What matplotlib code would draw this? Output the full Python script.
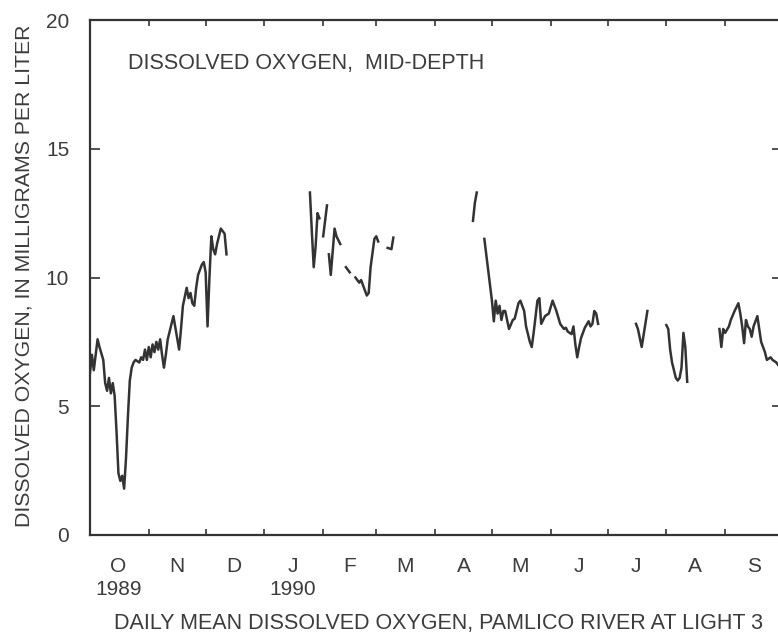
import numpy as np
import matplotlib
matplotlib.use('Agg')
import matplotlib.pyplot as plt
import matplotlib.dates as mdates

plt.rcParams['font.family'] = ['Liberation Sans', 'DejaVu Sans']

# days counted from 1 Oct 1989, values in mg/L
start = np.datetime64('1989-10-01')

seg1_day = [0, 1, 2, 4, 5, 7, 8, 9, 10, 11, 12, 13, 14, 15, 16, 17, 18, 19, 20, 21,
            22, 23, 24, 26, 27, 28, 29, 30, 31, 32, 33, 34, 35, 36, 37, 38, 39, 40, 41,
            42, 44, 47, 48, 49, 51, 52, 53, 54, 55, 56, 57, 59, 60, 61, 62, 63, 64, 65,
            66, 67, 68, 69, 70, 71, 72]
seg1_do = [6.3, 7.0, 6.4, 7.6, 7.3, 6.8, 5.9, 5.6, 6.1, 5.5, 5.9, 5.4, 4.0, 2.4, 2.1, 2.3,
           1.8, 3.0, 4.6, 6.0, 6.5, 6.7, 6.8, 6.7, 6.9, 6.8, 7.2, 6.8, 7.3, 6.9, 7.4, 7.1,
           7.5, 7.2, 7.6, 7.0, 6.5, 7.0, 7.6, 7.9, 8.5, 7.2, 8.0, 8.9, 9.6, 9.2, 9.4, 9.0,
           8.9, 9.6, 10.1, 10.5, 10.6, 10.2, 8.1, 10.0, 11.6, 11.1, 10.9, 11.3, 11.6, 11.9,
           11.8, 11.7, 10.9]

seg2_day = [116, 117, 118, 119, 120, 121]
seg2_do = [13.3, 11.8, 10.4, 11.2, 12.5, 12.3]

seg3_day = [123, 125]
seg3_do = [11.6, 12.8]

seg4_day = [126, 127, 129, 130, 132]
seg4_do = [10.9, 10.1, 11.9, 11.6, 11.3]

seg5_day = [135, 137]
seg5_do = [10.4, 10.2]

seg6_day = [140, 142, 143, 145, 146, 147, 148, 150, 151, 152]
seg6_do = [10.0, 9.8, 9.9, 9.5, 9.3, 9.4, 10.4, 11.5, 11.6, 11.4]

seg7_day = [157, 159, 160]
seg7_do = [11.15, 11.1, 11.55]

seg8_day = [202, 203, 204]
seg8_do = [12.2, 12.9, 13.3]

seg9_day = [208, 210, 212, 213, 214, 215, 216, 217, 218, 219, 221, 223, 224, 226, 227,
            229, 230, 232, 233, 234, 236, 237, 238, 240, 242, 244, 246, 248, 250, 251,
            252, 254, 255, 256, 257, 258, 259, 261, 263, 264, 265, 266, 267, 268]
seg9_do = [11.5, 10.3, 9.1, 8.3, 9.1, 8.6, 8.9, 8.35, 8.7, 8.7, 8.0, 8.35, 8.4, 9.0, 9.1,
           8.7, 8.1, 7.5, 7.3, 7.85, 9.1, 9.2, 8.2, 8.5, 8.6, 9.1, 8.7, 8.2, 8.0, 8.05,
           7.9, 7.8, 8.1, 7.4, 6.9, 7.3, 7.65, 8.05, 8.3, 8.1, 8.2, 8.7, 8.6, 8.2]

seg10_day = [288, 289, 291, 294]
seg10_do = [8.2, 8.0, 7.3, 8.7]

seg11_day = [304, 305, 306, 307, 308, 309, 310, 311, 312, 313, 314, 315]
seg11_do = [8.15, 8.0, 7.2, 6.7, 6.4, 6.1, 6.0, 6.1, 6.5, 7.85, 7.3, 5.95]

seg12_day = [332, 333, 334, 335, 337, 338, 340, 342, 343, 344, 345, 346, 347, 348, 349,
             350, 351, 352, 353, 354, 355, 356, 357, 359, 360, 362, 364]
seg12_do = [8.0, 7.3, 8.0, 7.85, 8.1, 8.35, 8.7, 9.0, 8.6, 8.1, 7.45, 8.35, 8.1, 8.0, 7.7,
            8.1, 8.3, 8.5, 8.0, 7.5, 7.3, 7.1, 6.8, 6.9, 6.8, 6.7, 6.5]

segments = [(seg1_day, seg1_do), (seg2_day, seg2_do), (seg3_day, seg3_do),
            (seg4_day, seg4_do), (seg5_day, seg5_do), (seg6_day, seg6_do),
            (seg7_day, seg7_do), (seg8_day, seg8_do), (seg9_day, seg9_do),
            (seg10_day, seg10_do), (seg11_day, seg11_do), (seg12_day, seg12_do)]

month_labels = ['O\n1989', 'N', 'D', 'J\n1990', 'F', 'M', 'A', 'M', 'J', 'J', 'A', 'S']

ink = '#333333'
txt = '#3c3c3c'

fig = plt.figure(figsize=(7.78, 6.34), dpi=100)
ax = fig.add_axes([90 / 778, 99 / 634, 692 / 778, 515 / 634])

for days, vals in segments:
    dates = start + np.array(days).astype('timedelta64[D]')
    ax.plot(dates, vals, color=ink, lw=1.8)

month_starts = np.arange('1989-10', '1990-11', dtype='datetime64[M]').astype('datetime64[D]')
mids = month_starts[:-1] + (month_starts[1:] - month_starts[:-1]) // 2

ax.set_xlim(mdates.date2num(month_starts[0]), mdates.date2num(month_starts[-1]))
ax.set_ylim(0, 20)

ax.set_xticks(mdates.date2num(month_starts))
ax.set_xticklabels([])
ax.set_xticks(mdates.date2num(mids), minor=True)
ax.set_xticklabels(month_labels, minor=True, fontsize=15, color=txt, linespacing=1.25)
ax.tick_params(axis='x', which='major', direction='in', length=4, width=1.2,
               top=True, bottom=True, color=ink)
ax.tick_params(axis='x', which='minor', length=0, pad=16)

ax.set_yticks([0, 5, 10, 15, 20])
ax.set_yticklabels(['0', '5', '10', '15', '20'], fontsize=15, color=txt)
ax.tick_params(axis='y', direction='in', length=7, width=1.2, left=True, right=True,
               pad=15, color=ink)

for s in ax.spines.values():
    s.set_linewidth(1.6)
    s.set_color(ink)

ax.text(128 / 778, 1 - 64 / 634, 'DISSOLVED OXYGEN,  MID-DEPTH', transform=fig.transFigure,
        fontsize=15.5, color=txt, ha='left', va='center')

fig.text(24 / 778, 1 - 276 / 634, 'DISSOLVED OXYGEN, IN MILLIGRAMS PER LITER',
         rotation=90, fontsize=15.3, color=txt, ha='center', va='center')
fig.text(438 / 778, 1 - 623 / 634, 'DAILY MEAN DISSOLVED OXYGEN, PAMLICO RIVER AT LIGHT 3',
         fontsize=15.5, color=txt, ha='center', va='center')

fig.savefig('out.png', dpi=100)
